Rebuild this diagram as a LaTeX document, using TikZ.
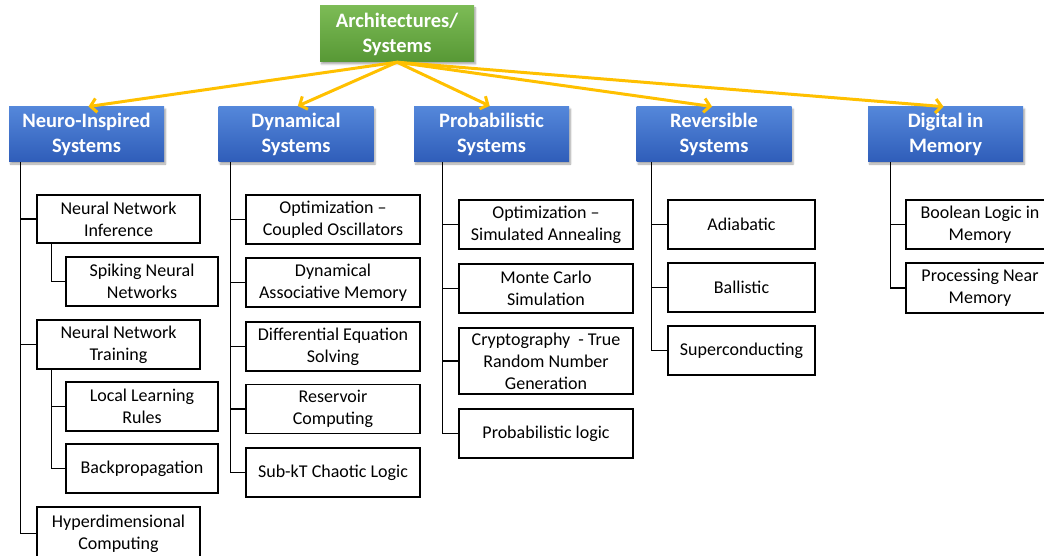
\documentclass[tikz,border=0pt]{standalone}
\usepackage{fontspec}
\setmainfont{Carlito}
\usetikzlibrary{arrows.meta,shadows.blur}
\definecolor{feedorange}{HTML}{FFC000}
\definecolor{bluetop}{HTML}{5487DA}
\definecolor{bluebot}{HTML}{2F5DB9}
\definecolor{greentop}{HTML}{7CBB55}
\definecolor{greenbot}{HTML}{579835}
\begin{document}
\begin{tikzpicture}[x=1pt,y=-1pt,
  leaf/.style={draw=black, line width=1.3pt, fill=white, inner sep=0pt, align=center,
    font=\fontsize{18}{22}\selectfont},
  head/.style={inner sep=0pt, align=center, text=white,
    font=\fontsize{20.5}{25}\selectfont\bfseries,
    minimum width=155pt, minimum height=55pt,
    blur shadow={shadow xshift=1.5pt, shadow yshift=-2pt, shadow blur steps=5, shadow opacity=35}},
  bluehead/.style={head, top color=bluetop, bottom color=bluebot},
  greenhead/.style={head, top color=greentop, bottom color=greenbot, minimum height=56pt, minimum width=154pt},
  feed/.style={draw=feedorange, line width=3pt, -{Straight Barb[length=6pt,width=14pt]}, shorten >=2pt},
  tree/.style={draw=black, line width=1.3pt}
]
\useasboundingbox (0,0) rectangle (1044,556);
\clip (0,0) rectangle (1044,556);

% top level
\node[greenhead] (root) at (397,34) {Architectures/\\Systems};

\node[bluehead] (neuro) at (86.5,134.5) {Neuro-Inspired\\Systems};
\node[bluehead] (dyn)   at (296,134.5)  {Dynamical\\Systems};
\node[bluehead] (prob)  at (491.5,134.5) {Probabilistic\\Systems};
\node[bluehead] (rev)   at (714,134.5)  {Reversible\\Systems};
\node[bluehead] (dig)   at (945.5,134.5) {Digital in\\Memory};

\foreach \h in {neuro,dyn,prob,rev,dig}
  \draw[feed] (root.south) -- (\h.north);

% neuro-inspired branch
\node[leaf, minimum width=163pt, minimum height=48pt] (nni) at (118.5,219) {Neural Network\\Inference};
\node[leaf, minimum width=152pt, minimum height=49pt] (snn) at (142,281.5) {Spiking Neural\\Networks};
\node[leaf, minimum width=163pt, minimum height=49pt] (nnt) at (118.5,344.5) {Neural Network\\Training};
\node[leaf, minimum width=152pt, minimum height=49pt] (llr) at (142,406.5) {Local Learning\\Rules};
\node[leaf, minimum width=152pt, minimum height=49pt] (bp)  at (142,468.5) {Backpropagation};
\node[leaf, minimum width=163pt, minimum height=53pt] (hdc) at (118.5,533.5) {Hyperdimensional\\Computing};

\foreach \c in {nni,nnt,hdc}
  \draw[tree] ([xshift=12pt]neuro.south west) |- (\c.west);
\draw[tree] ([xshift=15pt]nni.south west) |- (snn.west);
\foreach \c in {llr,bp}
  \draw[tree] ([xshift=15pt]nnt.south west) |- (\c.west);

% dynamical branch
\node[leaf, minimum width=174pt, minimum height=49pt] (dopt) at (333,219.5) {Optimization –\\Coupled Oscillators};
\node[leaf, minimum width=174pt, minimum height=49pt] (dam)  at (333,282.5) {Dynamical\\Associative Memory};
\node[leaf, minimum width=174pt, minimum height=49pt] (des)  at (333,346.5) {Differential Equation\\Solving};
\node[leaf, minimum width=174pt, minimum height=49pt] (res)  at (333,409)   {Reservoir\\Computing};
\node[leaf, minimum width=174pt, minimum height=49pt] (skt)  at (333,472.5) {Sub-kT Chaotic Logic};

\foreach \c in {dopt,dam,des,res,skt}
  \draw[tree] ([xshift=12.5pt]dyn.south west) |- (\c.west);

% probabilistic branch
\node[leaf, minimum width=174pt, minimum height=49pt] (popt) at (546,224.5) {Optimization –\\Simulated Annealing};
\node[leaf, minimum width=174pt, minimum height=49pt] (mcs)  at (546,288.5) {Monte Carlo\\Simulation};
\node[leaf, minimum width=174pt, minimum height=66pt] (trng) at (546,361)   {Cryptography~ - True\\Random Number\\Generation};
\node[leaf, minimum width=174pt, minimum height=49pt] (plog) at (546,433.5) {Probabilistic logic};

\foreach \c in {popt,mcs,trng,plog}
  \draw[tree] ([xshift=29pt]prob.south west) |- (\c.west);

% reversible branch
\node[leaf, minimum width=147pt, minimum height=49pt] (adia) at (741.5,224.5) {Adiabatic};
\node[leaf, minimum width=147pt, minimum height=49pt] (ball) at (741.5,287.5) {Ballistic};
\node[leaf, minimum width=147pt, minimum height=49pt] (supc) at (741.5,350.5) {Superconducting};

\foreach \c in {adia,ball,supc}
  \draw[tree] ([xshift=15.5pt]rev.south west) |- (\c.west);

% digital in memory branch
\node[leaf, minimum width=148pt, minimum height=49pt] (blm) at (980,224.5) {Boolean Logic in\\Memory};
\node[leaf, minimum width=148pt, minimum height=50pt] (pnm) at (980,288)   {Processing Near\\Memory};

\foreach \c in {blm,pnm}
  \draw[tree] ([xshift=23pt]dig.south west) |- (\c.west);
\end{tikzpicture}
\end{document}
